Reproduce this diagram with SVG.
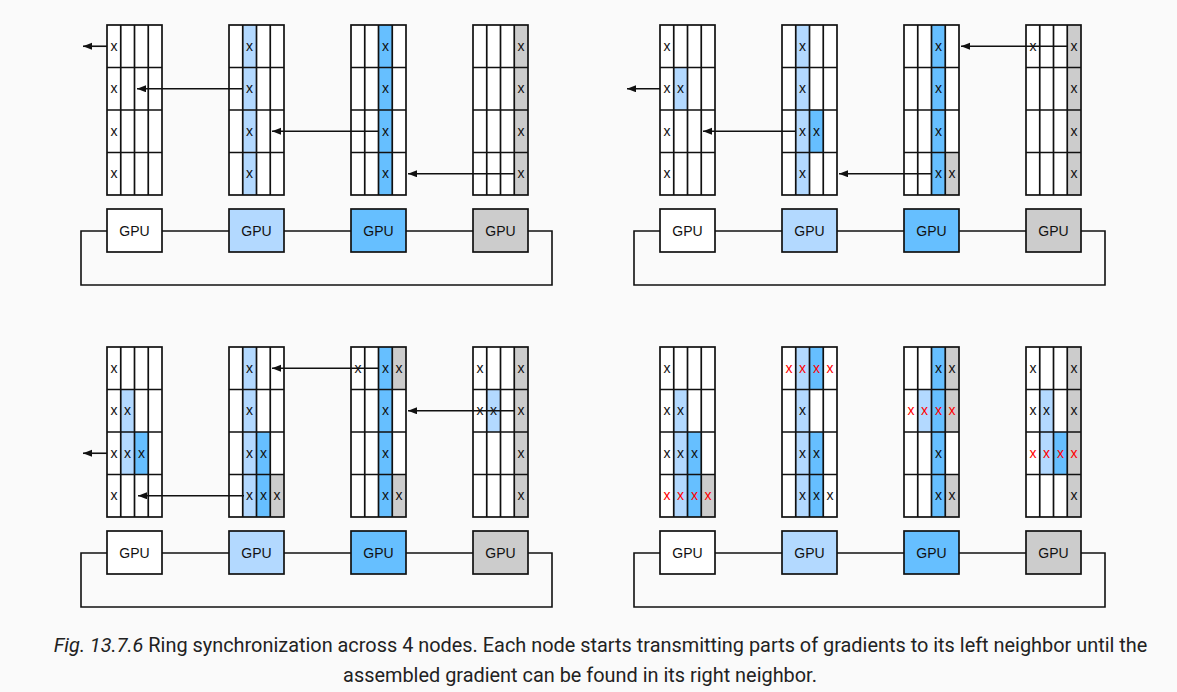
<svg xmlns="http://www.w3.org/2000/svg" xmlns:xlink="http://www.w3.org/1999/xlink" width="1177" height="692" viewBox="0 0 1177 692">
<style>
.bg{fill:#fff}
.lb{fill:#b3d9ff}
.mb{fill:#66bfff}
.gr{fill:#cccccc}
.gl{fill:none;stroke:#111;stroke-width:1.7}
.x{font-family:'Liberation Sans',Arial,sans-serif;font-size:14px;text-anchor:middle;fill:#111}
.r{fill:#f00}
.gpu rect{stroke:#111;stroke-width:1.7}
.gpu text{font-family:'Liberation Sans',Arial,sans-serif;font-size:14px;text-anchor:middle;fill:#111}
.ring{fill:none;stroke:#111;stroke-width:1.6}
.arr{fill:none;stroke:#111;stroke-width:1.6;marker-end:url(#ah)}
.cap{font-family:Roboto,'Noto Sans',sans-serif;font-size:19.9px;fill:#222;text-anchor:middle}
</style>
<defs>
<marker id="ah" markerUnits="userSpaceOnUse" markerWidth="10" markerHeight="8" refX="9" refY="3.5" orient="auto">
<path d="M0,0 L9,3.5 L0,7 z" fill="#111"/>
</marker>
<g id="glines">
<rect class="gl" width="55" height="170"/>
<path class="gl" d="M13.75,0V170M27.5,0V170M41.25,0V170M0,42.5H55M0,85H55M0,127.5H55"/>
</g>
<g id="gpuring">
<path class="ring" d="M107,231H81V285H552V231H528M162,231H229M284,231H351M406,231H473"/>
</g>
</defs>
<rect width="1177" height="692" fill="#fafafa"/>

<!-- Panel A -->
<g id="panelA">
<g id="A-g1" transform="translate(107,25)">
<rect class="bg" width="55" height="170"/>
<use href="#glines"/>
<text class="x" x="6.9" y="25.5">x</text><text class="x" x="6.9" y="68">x</text><text class="x" x="6.9" y="110.5">x</text><text class="x" x="6.9" y="153">x</text>
</g>
<g id="A-g2" transform="translate(229,25)">
<rect class="bg" width="55" height="170"/>
<rect class="lb" x="13.75" width="13.75" height="170"/>
<use href="#glines"/>
<text class="x" x="20.6" y="25.5">x</text><text class="x" x="20.6" y="68">x</text><text class="x" x="20.6" y="110.5">x</text><text class="x" x="20.6" y="153">x</text>
</g>
<g id="A-g3" transform="translate(351,25)">
<rect class="bg" width="55" height="170"/>
<rect class="mb" x="27.5" width="13.75" height="170"/>
<use href="#glines"/>
<text class="x" x="34.4" y="25.5">x</text><text class="x" x="34.4" y="68">x</text><text class="x" x="34.4" y="110.5">x</text><text class="x" x="34.4" y="153">x</text>
</g>
<g id="A-g4" transform="translate(473,25)">
<rect class="bg" width="55" height="170"/>
<rect class="gr" x="41.25" width="13.75" height="170"/>
<use href="#glines"/>
<text class="x" x="48.1" y="25.5">x</text><text class="x" x="48.1" y="68">x</text><text class="x" x="48.1" y="110.5">x</text><text class="x" x="48.1" y="153">x</text>
</g>
<g id="A-connectors">
<use href="#gpuring"/>
<path class="arr" d="M107,46.25H83"/>
<path class="arr" d="M243,88.75H137"/>
<path class="arr" d="M379,131.25H272"/>
<path class="arr" d="M515,173.75H408"/>
</g>
<g id="A-gpu1" class="gpu"><rect x="107" y="209" width="55" height="43" fill="#fff"/><text x="134.5" y="236">GPU</text></g>
<g id="A-gpu2" class="gpu"><rect x="229" y="209" width="55" height="43" fill="#b3d9ff"/><text x="256.5" y="236">GPU</text></g>
<g id="A-gpu3" class="gpu"><rect x="351" y="209" width="55" height="43" fill="#66bfff"/><text x="378.5" y="236">GPU</text></g>
<g id="A-gpu4" class="gpu"><rect x="473" y="209" width="55" height="43" fill="#cccccc"/><text x="500.5" y="236">GPU</text></g>
</g>

<!-- Panel B -->
<g id="panelB" transform="translate(553,0)">
<g id="B-g1" transform="translate(107,25)">
<rect class="bg" width="55" height="170"/>
<rect class="lb" x="13.75" y="42.5" width="13.75" height="42.5"/>
<use href="#glines"/>
<text class="x" x="6.9" y="25.5">x</text><text class="x" x="6.9" y="68">x</text><text class="x" x="6.9" y="110.5">x</text><text class="x" x="6.9" y="153">x</text>
<text class="x" x="20.6" y="68">x</text>
</g>
<g id="B-g2" transform="translate(229,25)">
<rect class="bg" width="55" height="170"/>
<rect class="lb" x="13.75" width="13.75" height="170"/>
<rect class="mb" x="27.5" y="85" width="13.75" height="42.5"/>
<use href="#glines"/>
<text class="x" x="20.6" y="25.5">x</text><text class="x" x="20.6" y="68">x</text><text class="x" x="20.6" y="110.5">x</text><text class="x" x="20.6" y="153">x</text>
<text class="x" x="34.4" y="110.5">x</text>
</g>
<g id="B-g3" transform="translate(351,25)">
<rect class="bg" width="55" height="170"/>
<rect class="mb" x="27.5" width="13.75" height="170"/>
<rect class="gr" x="41.25" y="127.5" width="13.75" height="42.5"/>
<use href="#glines"/>
<text class="x" x="34.4" y="25.5">x</text><text class="x" x="34.4" y="68">x</text><text class="x" x="34.4" y="110.5">x</text><text class="x" x="34.4" y="153">x</text>
<text class="x" x="48.1" y="153">x</text>
</g>
<g id="B-g4" transform="translate(473,25)">
<rect class="bg" width="55" height="170"/>
<rect class="gr" x="41.25" width="13.75" height="170"/>
<use href="#glines"/>
<text class="x" x="48.1" y="25.5">x</text><text class="x" x="48.1" y="68">x</text><text class="x" x="48.1" y="110.5">x</text><text class="x" x="48.1" y="153">x</text>
<text class="x" x="6.9" y="25.5">x</text>
</g>
<g id="B-connectors">
<use href="#gpuring"/>
<path class="arr" d="M107,88.75H74"/>
<path class="arr" d="M243,131.25H150"/>
<path class="arr" d="M379,173.75H286"/>
<path class="arr" d="M514,46.25H408"/>
</g>
<g id="B-gpu1" class="gpu"><rect x="107" y="209" width="55" height="43" fill="#fff"/><text x="134.5" y="236">GPU</text></g>
<g id="B-gpu2" class="gpu"><rect x="229" y="209" width="55" height="43" fill="#b3d9ff"/><text x="256.5" y="236">GPU</text></g>
<g id="B-gpu3" class="gpu"><rect x="351" y="209" width="55" height="43" fill="#66bfff"/><text x="378.5" y="236">GPU</text></g>
<g id="B-gpu4" class="gpu"><rect x="473" y="209" width="55" height="43" fill="#cccccc"/><text x="500.5" y="236">GPU</text></g>
</g>

<!-- Panel C -->
<g id="panelC" transform="translate(0,322)">
<g id="C-g1" transform="translate(107,25)">
<rect class="bg" width="55" height="170"/>
<rect class="lb" x="13.75" y="42.5" width="13.75" height="85"/>
<rect class="mb" x="27.5" y="85" width="13.75" height="42.5"/>
<use href="#glines"/>
<text class="x" x="6.9" y="25.5">x</text><text class="x" x="6.9" y="68">x</text><text class="x" x="6.9" y="110.5">x</text><text class="x" x="6.9" y="153">x</text>
<text class="x" x="20.6" y="68">x</text><text class="x" x="20.6" y="110.5">x</text><text class="x" x="34.4" y="110.5">x</text>
</g>
<g id="C-g2" transform="translate(229,25)">
<rect class="bg" width="55" height="170"/>
<rect class="lb" x="13.75" width="13.75" height="170"/>
<rect class="mb" x="27.5" y="85" width="13.75" height="85"/>
<rect class="gr" x="41.25" y="127.5" width="13.75" height="42.5"/>
<use href="#glines"/>
<text class="x" x="20.6" y="25.5">x</text><text class="x" x="20.6" y="68">x</text><text class="x" x="20.6" y="110.5">x</text><text class="x" x="20.6" y="153">x</text>
<text class="x" x="34.4" y="110.5">x</text><text class="x" x="34.4" y="153">x</text><text class="x" x="48.1" y="153">x</text>
</g>
<g id="C-g3" transform="translate(351,25)">
<rect class="bg" width="55" height="170"/>
<rect class="mb" x="27.5" width="13.75" height="170"/>
<rect class="gr" x="41.25" y="0" width="13.75" height="42.5"/>
<rect class="gr" x="41.25" y="127.5" width="13.75" height="42.5"/>
<use href="#glines"/>
<text class="x" x="34.4" y="25.5">x</text><text class="x" x="34.4" y="68">x</text><text class="x" x="34.4" y="110.5">x</text><text class="x" x="34.4" y="153">x</text>
<text class="x" x="6.9" y="25.5">x</text><text class="x" x="48.1" y="25.5">x</text><text class="x" x="48.1" y="153">x</text>
</g>
<g id="C-g4" transform="translate(473,25)">
<rect class="bg" width="55" height="170"/>
<rect class="gr" x="41.25" width="13.75" height="170"/>
<rect class="lb" x="13.75" y="42.5" width="13.75" height="42.5"/>
<use href="#glines"/>
<text class="x" x="48.1" y="25.5">x</text><text class="x" x="48.1" y="68">x</text><text class="x" x="48.1" y="110.5">x</text><text class="x" x="48.1" y="153">x</text>
<text class="x" x="6.9" y="25.5">x</text><text class="x" x="6.9" y="68">x</text><text class="x" x="20.6" y="68">x</text>
</g>
<g id="C-connectors">
<use href="#gpuring"/>
<path class="arr" d="M107,131.25H83"/>
<path class="arr" d="M244,173.75H138"/>
<path class="arr" d="M379,46.25H272"/>
<path class="arr" d="M514,88.75H408"/>
</g>
<g id="C-gpu1" class="gpu"><rect x="107" y="209" width="55" height="43" fill="#fff"/><text x="134.5" y="236">GPU</text></g>
<g id="C-gpu2" class="gpu"><rect x="229" y="209" width="55" height="43" fill="#b3d9ff"/><text x="256.5" y="236">GPU</text></g>
<g id="C-gpu3" class="gpu"><rect x="351" y="209" width="55" height="43" fill="#66bfff"/><text x="378.5" y="236">GPU</text></g>
<g id="C-gpu4" class="gpu"><rect x="473" y="209" width="55" height="43" fill="#cccccc"/><text x="500.5" y="236">GPU</text></g>
</g>

<!-- Panel D -->
<g id="panelD" transform="translate(553,322)">
<g id="D-g1" transform="translate(107,25)">
<rect class="bg" width="55" height="170"/>
<rect class="lb" x="13.75" y="42.5" width="13.75" height="127.5"/>
<rect class="mb" x="27.5" y="85" width="13.75" height="85"/>
<rect class="gr" x="41.25" y="127.5" width="13.75" height="42.5"/>
<use href="#glines"/>
<text class="x" x="6.9" y="25.5">x</text><text class="x" x="6.9" y="68">x</text><text class="x" x="6.9" y="110.5">x</text>
<text class="x" x="20.6" y="68">x</text><text class="x" x="20.6" y="110.5">x</text><text class="x" x="34.4" y="110.5">x</text>
<text class="x r" x="6.9" y="153">x</text><text class="x r" x="20.6" y="153">x</text><text class="x r" x="34.4" y="153">x</text><text class="x r" x="48.1" y="153">x</text>
</g>
<g id="D-g2" transform="translate(229,25)">
<rect class="bg" width="55" height="170"/>
<rect class="lb" x="13.75" width="13.75" height="170"/>
<rect class="mb" x="27.5" y="0" width="13.75" height="42.5"/>
<rect class="mb" x="27.5" y="85" width="13.75" height="85"/>
<use href="#glines"/>
<text class="x r" x="6.9" y="25.5">x</text><text class="x r" x="20.6" y="25.5">x</text><text class="x r" x="34.4" y="25.5">x</text><text class="x r" x="48.1" y="25.5">x</text>
<text class="x" x="20.6" y="68">x</text>
<text class="x" x="20.6" y="110.5">x</text><text class="x" x="34.4" y="110.5">x</text>
<text class="x" x="20.6" y="153">x</text><text class="x" x="34.4" y="153">x</text><text class="x" x="48.1" y="153">x</text>
</g>
<g id="D-g3" transform="translate(351,25)">
<rect class="bg" width="55" height="170"/>
<rect class="mb" x="27.5" width="13.75" height="170"/>
<rect class="gr" x="41.25" y="0" width="13.75" height="85"/>
<rect class="gr" x="41.25" y="127.5" width="13.75" height="42.5"/>
<rect class="lb" x="13.75" y="42.5" width="13.75" height="42.5"/>
<use href="#glines"/>
<text class="x" x="34.4" y="25.5">x</text><text class="x" x="48.1" y="25.5">x</text>
<text class="x r" x="6.9" y="68">x</text><text class="x r" x="20.6" y="68">x</text><text class="x r" x="34.4" y="68">x</text><text class="x r" x="48.1" y="68">x</text>
<text class="x" x="34.4" y="110.5">x</text>
<text class="x" x="34.4" y="153">x</text><text class="x" x="48.1" y="153">x</text>
</g>
<g id="D-g4" transform="translate(473,25)">
<rect class="bg" width="55" height="170"/>
<rect class="gr" x="41.25" width="13.75" height="170"/>
<rect class="lb" x="13.75" y="42.5" width="13.75" height="85"/>
<rect class="mb" x="27.5" y="85" width="13.75" height="42.5"/>
<use href="#glines"/>
<text class="x" x="6.9" y="25.5">x</text><text class="x" x="48.1" y="25.5">x</text>
<text class="x" x="6.9" y="68">x</text><text class="x" x="20.6" y="68">x</text><text class="x" x="48.1" y="68">x</text>
<text class="x r" x="6.9" y="110.5">x</text><text class="x r" x="20.6" y="110.5">x</text><text class="x r" x="34.4" y="110.5">x</text><text class="x r" x="48.1" y="110.5">x</text>
<text class="x" x="48.1" y="153">x</text>
</g>
<g id="D-connectors">
<use href="#gpuring"/>
</g>
<g id="D-gpu1" class="gpu"><rect x="107" y="209" width="55" height="43" fill="#fff"/><text x="134.5" y="236">GPU</text></g>
<g id="D-gpu2" class="gpu"><rect x="229" y="209" width="55" height="43" fill="#b3d9ff"/><text x="256.5" y="236">GPU</text></g>
<g id="D-gpu3" class="gpu"><rect x="351" y="209" width="55" height="43" fill="#66bfff"/><text x="378.5" y="236">GPU</text></g>
<g id="D-gpu4" class="gpu"><rect x="473" y="209" width="55" height="43" fill="#cccccc"/><text x="500.5" y="236">GPU</text></g>
</g>

<g id="caption">
<text class="cap" x="600.5" y="652"><tspan font-style="italic">Fig. 13.7.6</tspan> Ring synchronization across 4 nodes. Each node starts transmitting parts of gradients to its left neighbor until the</text>
<text class="cap" x="580" y="682">assembled gradient can be found in its right neighbor.</text>
</g>
</svg>
